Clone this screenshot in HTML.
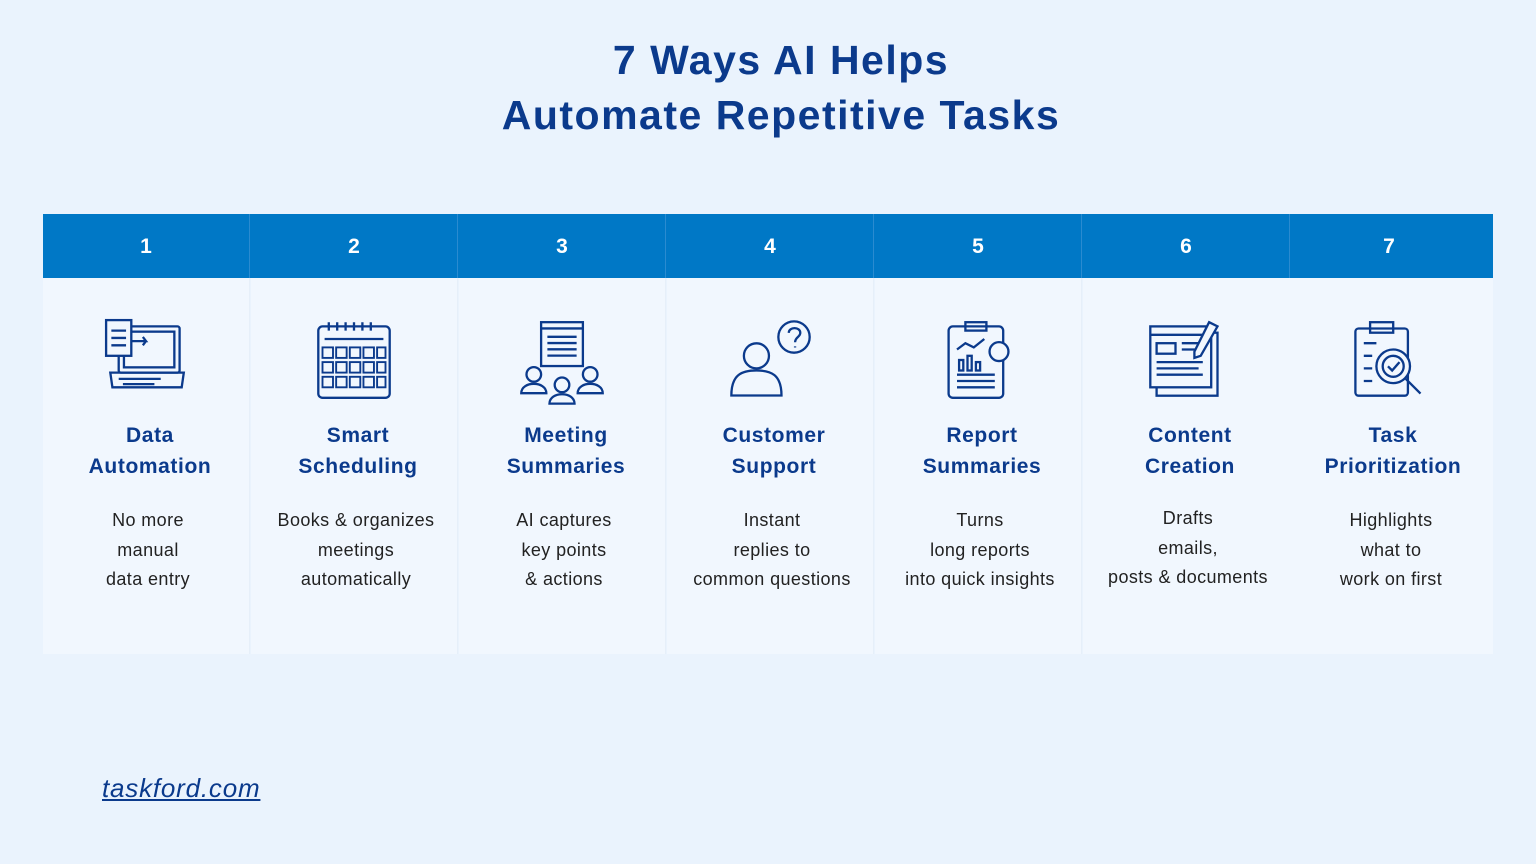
<!DOCTYPE html>
<html><head><meta charset="utf-8"><style>
body{margin:0;width:1536px;height:864px;background:#eaf3fd;font-family:"Liberation Sans",sans-serif;position:relative;overflow:hidden}
h1{position:absolute;top:33px;left:0;width:1562px;margin:0;text-align:center;color:#0b3a8c;font-size:41px;line-height:55px;font-weight:bold;letter-spacing:1.5px}
.hdr{position:absolute;left:43px;top:214px;width:1450px;height:64px;background:#0078c6}
.col{position:absolute;top:214px;width:207px;height:440px}
.num{height:64px;line-height:66px;text-align:center;color:#fff;font-weight:bold;font-size:21px;border-right:1px solid #2a8bd0}
.body{height:376px;background:#f1f7fe;border-right:1px solid #e6eff9;position:relative}
.ic{position:absolute;left:0;right:0;top:40px;height:90px;text-align:center}
.t{position:absolute;top:142px;left:4px;right:-4px;text-align:center;color:#0b3a8c;font-weight:bold;font-size:21px;line-height:31px;letter-spacing:0.6px}
.d{position:absolute;top:228px;left:2px;right:-2px;text-align:center;color:#222;font-size:18px;line-height:29.5px;letter-spacing:0.4px}
.lnk{position:absolute;left:102px;top:773px;color:#0b3a8c;font-size:26px;font-style:italic;text-decoration:underline;letter-spacing:0.8px}
svg{stroke:#0b3a8c;fill:none;stroke-width:2.2}
</style></head><body>
<h1>7 Ways AI Helps<br>Automate Repetitive Tasks</h1>
<div class="hdr"></div>

<div class="col" style="left:43px"><div class="num">1</div><div class="body">
<div class="ic"><svg width="84" height="84" viewBox="0 0 80 80"><rect x="14" y="8" width="58" height="44" rx="2"/><rect x="19" y="13" width="48" height="34"/><path d="M6 52h70l-2 14H8z"/><path d="M14 58h40M18 63h30"/><rect x="2" y="2" width="24" height="34" fill="#f1f7fe"/><path d="M7 12h14M7 19h14M7 26h14M26 22h14l-3-4M40 22l-3 4"/></svg></div>
<div class="t">Data<br>Automation</div><div class="d">No more<br>manual<br>data entry</div></div></div>

<div class="col" style="left:251px"><div class="num">2</div><div class="body">
<div class="ic"><svg width="84" height="84" viewBox="0 0 80 80"><rect x="6" y="8" width="68" height="68" rx="4"/><path d="M12 20h56"/><path d="M16 4v8M24 4v8M32 4v8M40 4v8M48 4v8M56 4v8"/><g stroke-width="1.8"><rect x="10" y="28" width="10" height="10"/><rect x="23" y="28" width="10" height="10"/><rect x="36" y="28" width="10" height="10"/><rect x="49" y="28" width="10" height="10"/><rect x="62" y="28" width="8" height="10"/><rect x="10" y="42" width="10" height="10"/><rect x="23" y="42" width="10" height="10"/><rect x="36" y="42" width="10" height="10"/><rect x="49" y="42" width="10" height="10"/><rect x="62" y="42" width="8" height="10"/><rect x="10" y="56" width="10" height="10"/><rect x="23" y="56" width="10" height="10"/><rect x="36" y="56" width="10" height="10"/><rect x="49" y="56" width="10" height="10"/><rect x="62" y="56" width="8" height="10"/></g></svg></div>
<div class="t">Smart<br>Scheduling</div><div class="d">Books &amp; organizes<br>meetings<br>automatically</div></div></div>

<div class="col" style="left:459px"><div class="num">3</div><div class="body">
<div class="ic"><svg width="94" height="94" viewBox="0 0 90 90"><rect x="25" y="4" width="40" height="42"/><path d="M25 10h40M31 18h28M31 24h28M31 30h28M31 36h28"/><circle cx="18" cy="54" r="7"/><path d="M6 72c0-12 24-12 24 0z"/><circle cx="45" cy="64" r="7"/><path d="M33 82c0-12 24-12 24 0z"/><circle cx="72" cy="54" r="7"/><path d="M60 72c0-12 24-12 24 0z"/></svg></div>
<div class="t">Meeting<br>Summaries</div><div class="d">AI captures<br>key points<br>&amp; actions</div></div></div>

<div class="col" style="left:667px"><div class="num">4</div><div class="body">
<div class="ic"><svg width="94" height="84" viewBox="0 0 90 80"><circle cx="32" cy="36" r="12"/><path d="M8 74c0-20 10-24 24-24s24 4 24 24z"/><circle cx="68" cy="18" r="15"/><path d="M63 14c0-6 11-6 11 0 0 4-5 4-5 9M69 27v1"/></svg></div>
<div class="t">Customer<br>Support</div><div class="d">Instant<br>replies to<br>common questions</div></div></div>

<div class="col" style="left:875px"><div class="num">5</div><div class="body">
<div class="ic"><svg width="84" height="84" viewBox="0 0 80 80"><rect x="12" y="8" width="52" height="68" rx="4"/><rect x="28" y="4" width="20" height="8"/><path d="M20 30l8-6 8 4 10-8M20 54h36M20 60h36M20 66h36"/><rect x="22" y="40" width="4" height="10"/><rect x="30" y="36" width="4" height="14"/><rect x="38" y="42" width="4" height="8"/><circle cx="60" cy="32" r="9" fill="#f1f7fe"/></svg></div>
<div class="t">Report<br>Summaries</div><div class="d">Turns<br>long reports<br>into quick insights</div></div></div>

<div class="col" style="left:1083px"><div class="num">6</div><div class="body">
<div class="ic"><svg width="84" height="84" viewBox="0 0 80 80"><rect x="12" y="14" width="58" height="60"/><rect x="6" y="8" width="58" height="58" fill="#f1f7fe"/><path d="M6 16h58"/><rect x="12" y="24" width="18" height="10"/><path d="M36 24h20M36 30h20M12 42h44M12 48h40M12 54h44"/><path d="M62 4l8 4-16 28-6 2 0-6z" fill="#f1f7fe"/></svg></div>
<div class="t">Content<br>Creation</div><div class="d" style="top:226px">Drafts<br>emails,<br>posts &amp; documents</div></div></div>

<div class="col" style="left:1285px;width:208px"><div class="num" style="border:none">7</div><div class="body" style="border:none">
<div class="ic"><svg width="84" height="84" viewBox="0 0 80 80"><rect x="8" y="10" width="50" height="64" rx="3"/><rect x="22" y="4" width="22" height="10"/><path d="M16 24h12M16 36h8M16 48h8M16 60h8"/><circle cx="44" cy="46" r="16" fill="#f1f7fe"/><circle cx="44" cy="46" r="10"/><path d="M39 46l4 4 7-8M56 58l14 14" /></svg></div>
<div class="t">Task<br>Prioritization</div><div class="d">Highlights<br>what to<br>work on first</div></div></div>

<div class="lnk">taskford.com</div>
</body></html>
